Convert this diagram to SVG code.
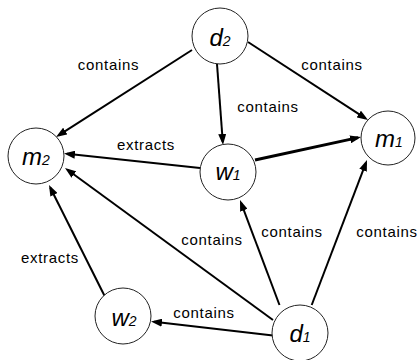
<svg xmlns="http://www.w3.org/2000/svg" width="420" height="360" viewBox="0 0 420 360">
<style>
.node circle{fill:#fff;stroke:#222;stroke-width:1}
.node text{font-family:"Liberation Sans",Arial,sans-serif;font-style:italic;font-size:24px;text-anchor:middle;fill:#000}
.node tspan{font-size:14px}
.edge{stroke:#000;stroke-width:2;fill:none;marker-end:url(#arr)}
.lbl{font-family:"Liberation Sans",Arial,sans-serif;font-size:15px;letter-spacing:0.7px;text-anchor:middle;fill:#000}
</style>
<defs>
<marker id="arr" markerUnits="userSpaceOnUse" markerWidth="11" markerHeight="8" refX="8" refY="4" orient="auto">
<path d="M0,0 L11,4 L0,8 z" fill="#000"/>
</marker>
</defs>
<rect width="420" height="360" fill="#fff"/>
<g id="connectors">
<line class="edge" x1="192" y1="50" x2="58.53" y2="135.38"/>
<line class="edge" x1="217" y1="64" x2="222.78" y2="142.01"/>
<line class="edge" x1="248" y1="42" x2="365.48" y2="118.37"/>
<line class="edge" x1="200" y1="168" x2="66.98" y2="153.82"/>
<line class="edge" x1="255" y1="160" x2="358.07" y2="137.64" style="stroke-width:3"/>
<line class="edge" x1="311.7" y1="305" x2="365.93" y2="162.8"/>
<line class="edge" x1="279.5" y1="305" x2="241.06" y2="202.81"/>
<line class="edge" x1="273" y1="320" x2="67.42" y2="169.77"/>
<line class="edge" x1="273" y1="335.5" x2="153.98" y2="321.84"/>
<line class="edge" x1="105" y1="296.7" x2="50.34" y2="187.68"/>
<text class="lbl" x="108.5" y="70">contains</text>
<text class="lbl" x="332" y="70">contains</text>
<text class="lbl" x="268" y="112">contains</text>
<text class="lbl" x="146" y="150">extracts</text>
<text class="lbl" x="50" y="263">extracts</text>
<text class="lbl" x="204" y="318">contains</text>
<text class="lbl" x="212" y="245">contains</text>
<text class="lbl" x="292" y="237">contains</text>
<text class="lbl" x="387" y="237">contains</text>
</g>
<g id="d2" class="node"><circle cx="220" cy="36" r="28"/><text x="220" y="46">d<tspan>2</tspan></text></g>
<g id="m2" class="node"><circle cx="36" cy="156" r="28"/><text x="36" y="165">m<tspan>2</tspan></text></g>
<g id="w1" class="node"><circle cx="228" cy="172" r="28"/><text x="228" y="180">w<tspan>1</tspan></text></g>
<g id="m1" class="node"><circle cx="388" cy="138" r="27"/><text x="389" y="147">m<tspan>1</tspan></text></g>
<g id="w2" class="node"><circle cx="123" cy="316" r="28"/><text x="124" y="326">w<tspan>2</tspan></text></g>
<g id="d1" class="node"><circle cx="300" cy="333" r="28"/><text x="300" y="342">d<tspan>1</tspan></text></g>
</svg>
